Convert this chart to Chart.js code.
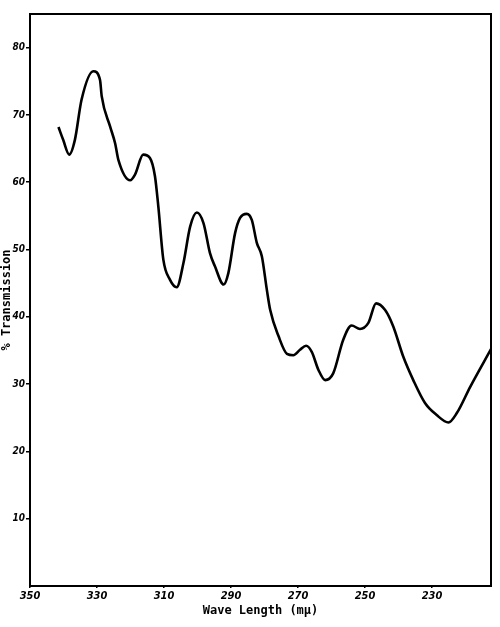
<!DOCTYPE html>
<html>
<head>
<meta charset="utf-8">
<script src="https://cdn.jsdelivr.net/npm/chart.js@4"></script>
<style>
  html, body { margin: 0; padding: 0; background: #fff; }
  #wrap { width: 500px; height: 627px; }
</style>
</head>
<body>
<div id="wrap"><canvas id="chart"></canvas></div>
<script>
// wave length (mμ) from left to right
const waveLength = [
    341.5, 340.1, 338.3, 336.6, 334.6, 331.1, 329.1, 328.6, 326.1, 324.6,
    323.6, 320.1, 318.7, 316.2, 314.2, 312.7, 311.7, 310.2, 308.2, 306.2,
    304.2, 302.2, 300.2, 298.2, 296.3, 294.8, 292.2, 290.8, 288.8, 287.3,
    285.3, 283.8, 282.3, 280.8, 279.3, 278.3, 275.8, 273.3, 271.4, 269.4,
    267.6, 265.9, 263.9, 261.9, 259.5, 256.5, 254.0, 251.5, 249.0, 246.7,
    244.0, 241.6, 238.6, 235.6, 232.1, 228.6, 225.1, 222.6, 218.6, 212.4
];
// % transmission at those wave lengths
const transmission = [
    68.2, 66.3, 64.1, 66.3, 72.3, 76.5, 75.2, 72.8, 68.3, 65.8,
    63.3, 60.3, 61.1, 64.1, 63.6, 60.9, 56.4, 48.5, 45.5, 44.4,
    48.0, 53.4, 55.5, 53.9, 49.5, 47.5, 44.8, 46.5, 52.4, 54.7,
    55.3, 54.4, 51.0, 49.0, 44.0, 41.0, 37.1, 34.5, 34.3, 35.1,
    35.7, 34.8, 32.1, 30.6, 31.6, 36.6, 38.7, 38.2, 39.1, 42.0,
    41.0, 38.6, 34.1, 30.6, 27.2, 25.4, 24.3, 25.7, 29.6, 35.2
];
const xTicks = [350, 330, 310, 290, 270, 250, 230];
const yTicks = [10, 20, 30, 40, 50, 60, 70, 80];

const ink = '#000';

// frame round the plot area
const framePlugin = {
    id: 'frame',
    beforeDraw(chart) {
        const c = chart.ctx;
        c.save();
        c.fillStyle = '#fff';
        c.fillRect(0, 0, chart.width, chart.height);
        c.restore();
    },
    afterDraw(chart) {
        const { left, top, right, bottom } = chart.chartArea;
        const c = chart.ctx;
        c.save();
        c.strokeStyle = ink;
        c.lineWidth = 2;
        c.strokeRect(left, top, right - left, bottom - top);
        c.restore();
    }
};

new Chart(document.getElementById('chart'), {
    type: 'line',
    data: {
        datasets: [{
            data: waveLength.map((w, i) => ({ x: w, y: transmission[i] })),
            borderColor: ink,
            borderWidth: 2.6,
            pointRadius: 0,
            fill: false,
            cubicInterpolationMode: 'monotone'
        }]
    },
    options: {
        responsive: true,
        maintainAspectRatio: false,
        animation: false,
        layout: { padding: { left: 0, top: 14, right: 9, bottom: 0 } },
        plugins: { legend: { display: false }, tooltip: { enabled: false } },
        scales: {
            x: {
                type: 'linear',
                reverse: true,
                min: 212.4,
                max: 350,
                afterBuildTicks: s => { s.ticks = xTicks.map(v => ({ value: v })); },
                afterFit: s => { s.height = 41; },
                grid: { display: true, drawOnChartArea: false, drawTicks: true, tickLength: 2, color: ink, lineWidth: 1.5 },
                border: { display: false },
                ticks: {
                    color: ink,
                    padding: 2,
                    maxRotation: 0,
                    font: { family: 'DejaVu Sans Condensed', size: 11, style: 'italic', weight: 'bold' }
                },
                title: {
                    display: true,
                    text: 'Wave Length (mμ)',
                    color: ink,
                    padding: { top: 0, bottom: 9 },
                    font: { family: 'DejaVu Sans Mono', size: 12, weight: 'bold' }
                }
            },
            y: {
                min: 0,
                max: 85,
                afterBuildTicks: s => { s.ticks = yTicks.map(v => ({ value: v })); },
                afterFit: s => { s.width = 30; },
                grid: { display: true, drawOnChartArea: false, drawTicks: true, tickLength: 4, color: ink, lineWidth: 1.5 },
                border: { display: false },
                ticks: {
                    color: ink,
                    padding: 1,
                    font: { family: 'DejaVu Sans Condensed', size: 10, style: 'italic', weight: 'bold' }
                },
                title: {
                    display: true,
                    text: '% Transmission',
                    color: ink,
                    padding: 0,
                    font: { family: 'DejaVu Sans Mono', size: 12, weight: 'bold' }
                }
            }
        }
    },
    plugins: [framePlugin]
});
</script>
</body>
</html>
